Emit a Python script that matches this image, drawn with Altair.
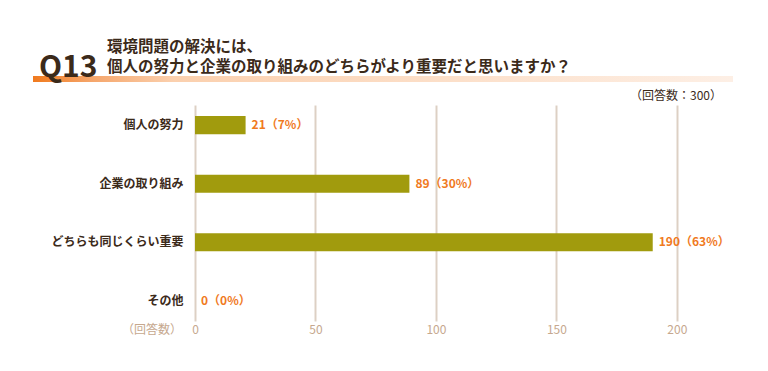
import altair as alt
import pandas as pd

categories = ["個人の努力", "企業の取り組み", "どちらも同じくらい重要", "その他"]
counts = [21, 89, 190, 0]
percents = [7, 30, 63, 0]
tick_values = [0, 50, 100, 150, 200]

FONT = "Noto Sans CJK JP"
DARK = "#3b2a1a"
TAN = "#c6a88e"
ORANGE = "#f07a1e"
OLIVE = "#a19b0d"
GRID = "#ddd0c4"

df = pd.DataFrame({
    "cat": categories,
    "count": counts,
    "label": [f"{c}（{p}%）" for c, p in zip(counts, percents)],
})
one = pd.DataFrame({"a": [0]})

yenc = alt.Y("cat:N", sort=categories, title=None,
             scale=alt.Scale(paddingInner=0.69, paddingOuter=0.19),
             axis=alt.Axis(domain=False, ticks=False, labelPadding=12,
                           labelFontSize=12, labelColor=DARK, labelFont=FONT,
                           labelFontWeight="bold"))
xenc = alt.X("count:Q", title=None, scale=alt.Scale(domain=[0, 220], nice=False),
             axis=alt.Axis(values=tick_values, grid=True, gridColor=GRID, gridWidth=2,
                           domain=False, ticks=False, labelColor=TAN, labelFontSize=12,
                           labelFont=FONT, labelPadding=3, labelFlush=False))

bars = alt.Chart(df).mark_bar(color=OLIVE).encode(x=xenc, y=yenc)
labels = alt.Chart(df).mark_text(align="left", baseline="middle", dx=6, color=ORANGE,
                                 font=FONT, fontSize=12, fontWeight="bold").encode(
    x="count:Q", y=alt.Y("cat:N", sort=categories), text="label:N")

grad = alt.Gradient(gradient="linear", x1=0, x2=1, y1=0, y2=0,
                    stops=[alt.GradientStop(color="#f07a1e", offset=0),
                           alt.GradientStop(color="#f5a468", offset=0.08),
                           alt.GradientStop(color="#fbd0ae", offset=0.2),
                           alt.GradientStop(color="#fdefe5", offset=1)])
band = alt.Chart(one).mark_rect(fill=grad).encode(
    x=alt.value(-162), x2=alt.value(538), y=alt.value(-29), y2=alt.value(-23))

q = alt.Chart(one).mark_text(text="Q13", font=FONT, fontSize=30, fontWeight="bold",
                             color=DARK, align="left", baseline="alphabetic").encode(
    x=alt.value(-156), y=alt.value(-28))
t1 = alt.Chart(one).mark_text(text="環境問題の解決には、", font=FONT, fontSize=15.5,
                              fontWeight="bold", color=DARK, align="left",
                              baseline="middle").encode(x=alt.value(-88), y=alt.value(-58))
t2 = alt.Chart(one).mark_text(text="個人の努力と企業の取り組みのどちらがより重要だと思いますか？",
                              font=FONT, fontSize=15.5, fontWeight="bold", color=DARK,
                              align="left", baseline="middle").encode(
    x=alt.value(-88), y=alt.value(-38))
n = alt.Chart(one).mark_text(text="（回答数：300）", font=FONT, fontSize=12, color=DARK,
                             align="right", baseline="middle").encode(
    x=alt.value(527), y=alt.value(-9))
ax = alt.Chart(one).mark_text(text="（回答数）", font=FONT, fontSize=12, color=TAN,
                              align="right", baseline="middle").encode(
    x=alt.value(-13), y=alt.value(225))

chart = alt.layer(bars, labels, band, q, t1, t2, n, ax).properties(
    width=530, height=216,
    autosize=alt.AutoSizeParams(type="none"),
    padding={"left": 187, "top": 97, "right": 35, "bottom": 42},
).configure_view(stroke=None)

chart.save("out.html", embed_options={"renderer": "svg", "actions": False})
